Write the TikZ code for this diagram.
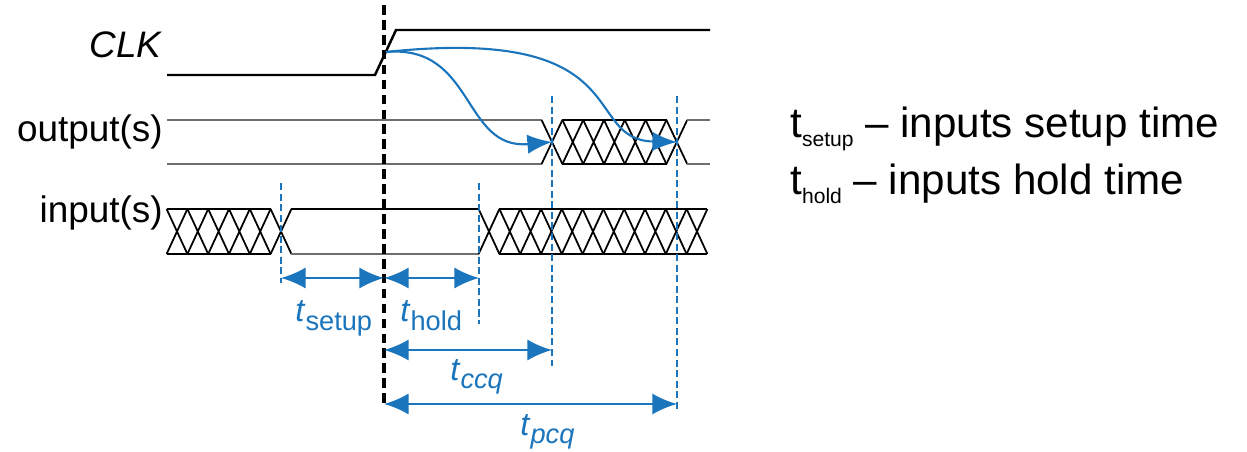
\documentclass[tikz,border=0pt]{standalone}
\usepackage{fontspec}
\setmainfont{Liberation Sans}
\setsansfont{Liberation Sans}
\usetikzlibrary{arrows.meta,positioning}
\definecolor{wire}{HTML}{1B75BC}
\definecolor{trace}{HTML}{6E6E6E}

\begin{document}
\begin{tikzpicture}[x=0.02cm,y=-0.02cm,
  font=\fontsize{21}{21}\selectfont,
  lab/.style={anchor=base east,inner sep=0pt},
  clk/.style={draw=black,line width=1.4pt},
  bus/.style={draw=trace,line width=1.2pt},
  hatch/.style={draw=black,line width=1pt},
  edge/.style={draw=black,line width=2pt,dash pattern=on 5.5pt off 3pt},
  guide/.style={draw=wire,line width=0.8pt,dash pattern=on 4pt off 2pt},
  dim/.style={{Latex[length=14pt,width=12pt]}-{Latex[length=14pt,width=12pt]},draw=wire,line width=1.2pt},
  flow/.style={-{Latex[length=14pt,width=11pt]},draw=wire,line width=1.2pt},
  tname/.style={anchor=base west,inner sep=0pt,text=wire,font=\fontsize{18.5}{18.5}\selectfont},
  key/.style={anchor=base west,inner sep=0pt,font=\fontsize{24}{24}\selectfont},
]
\useasboundingbox (0,0) rectangle (1247,452);
\node[lab] (clkname) at (163,58) {\textit{CLK}};
\node[lab] (outname) at (163,142) {output(s)};
\node[lab] (inname) at (163,223) {input(s)};
\draw[clk] (167,75) -- (375,75) -- (396,30) -- (710,30);
\draw[bus] (167,120) -- (541.6,120) (167,164) -- (541.6,164);
\draw[hatch] (562.4,120) -- (666.6,120) (562.4,164) -- (666.6,164);
\foreach \k in {0,...,6}
  \draw[hatch] ({541.6+20.8*\k},120) -- ({562.4+20.8*\k},164) ({541.6+20.8*\k},164) -- ({562.4+20.8*\k},120);
\draw[bus] (687.4,120) -- (710,120) (687.4,164) -- (710,164);
\draw[hatch] (166.6,209) -- (270.6,209) (166.6,254) -- (270.6,254);
\foreach \k in {0,...,5}
  \draw[hatch] ({166.6+20.8*\k},209) -- ({187.4+20.8*\k},254) ({166.6+20.8*\k},254) -- ({187.4+20.8*\k},209);
\draw[hatch] (291.4,209) -- (478.6,209);
\draw[bus] (291.4,254) -- (478.6,254);
\foreach \k in {0,...,10}
  \draw[hatch] ({478.6+20.8*\k},209) -- ({499.4+20.8*\k},254) ({478.6+20.8*\k},254) -- ({499.4+20.8*\k},209);
\draw[hatch] (499.4,209) -- (707.4,209) (499.4,254) -- (707.4,254);
\coordinate (su) at (281,183);
\coordinate (sd) at (281,283);
\coordinate (hu) at (479,183);
\coordinate (hd) at (479,324);
\coordinate (cu) at (552,96);
\coordinate (cd) at (552,366);
\coordinate (pu) at (677,96);
\coordinate (pd) at (677,410);
\draw[guide] (su) -- (sd);
\draw[guide] (hu) -- (hd);
\draw[guide] (cu) -- (cd);
\draw[guide] (pu) -- (pd);
\coordinate (edgetop) at (384,5);
\coordinate (edgebot) at (384,408);
\draw[edge] (edgetop) -- (edgebot);
\coordinate (rise) at (386,52);
\coordinate (outc) at (552,142);
\coordinate (outp) at (677,142);
\draw[flow] (rise) .. controls (475,44) and (462,150) .. (outc);
\draw[flow] (rise) .. controls (640,25) and (580,140) .. (outp);
\coordinate (s1) at (281,278);
\coordinate (e1) at (384,278);
\coordinate (h1) at (479,278);
\coordinate (e2) at (384,350);
\coordinate (c2) at (552,350);
\coordinate (e3) at (384,404);
\coordinate (p3) at (677,404);
\draw[dim] (s1) -- (e1);
\draw[dim] (e1) -- (h1);
\draw[dim] (e2) -- (c2);
\draw[dim] (e3) -- (p3);
\node[tname] (tsetup) at (295,322) {\textit{t}\raisebox{-5pt}{\fontsize{15.5}{15.5}\selectfont setup}};
\node[tname] (thold) at (400,322) {\textit{t}\raisebox{-5pt}{\fontsize{15.5}{15.5}\selectfont hold}};
\node[tname] (tccq) at (450,380) {\textit{t}\raisebox{-5pt}{\fontsize{15.5}{15.5}\selectfont\itshape ccq}};
\node[tname] (tpcq) at (520,435) {\textit{t}\raisebox{-5pt}{\fontsize{15.5}{15.5}\selectfont\itshape pcq}};
\node[key] (keysetup) at (790,138) {t\raisebox{-5pt}{\fontsize{12}{12}\selectfont setup} – inputs setup time};
\node[key] (keyhold) at (790,195) {t\raisebox{-5pt}{\fontsize{12}{12}\selectfont hold} – inputs hold time};
\end{tikzpicture}
\end{document}
